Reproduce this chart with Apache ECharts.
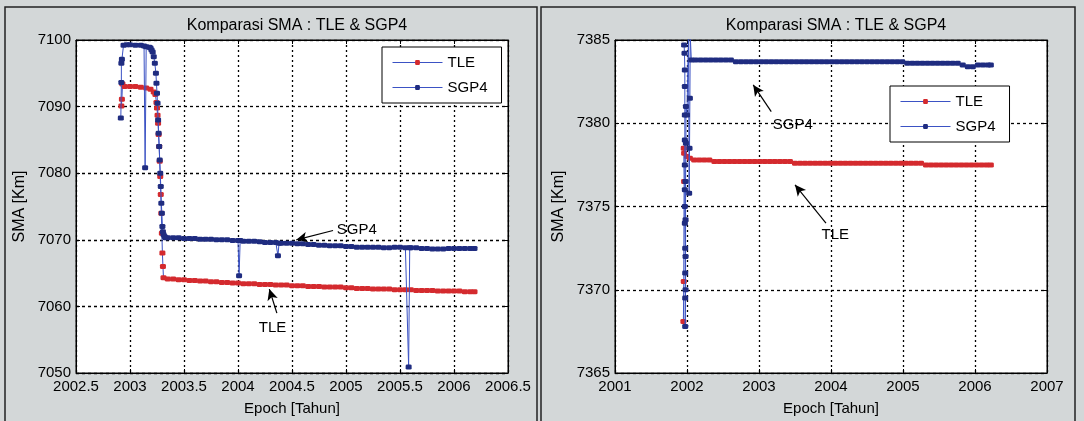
<!DOCTYPE html>
<html>
<head>
<meta charset="utf-8">
<script src="https://cdn.jsdelivr.net/npm/echarts@6/dist/echarts.min.js"></script>
<style>
html,body{margin:0;padding:0;background:#d3d7d8;}
#c{width:1084px;height:421px;}
</style>
</head>
<body>
<div id="c"></div>
<script>
// ---------- DATA ----------
// Left panel: SMA [Km] vs epoch [year]
const leftTLE = [
 [2002.92,7090.1],[2002.925,7091.1],[2002.93,7093.4],[2002.95,7093.0],[2003.00,7093.0],[2003.05,7093.0],
 [2003.10,7092.9],[2003.15,7092.8],[2003.19,7092.6],[2003.22,7092.2],[2003.235,7091.8],[2003.245,7090.6],
 [2003.25,7089.8],[2003.255,7088.7],[2003.26,7087.5],[2003.265,7085.8],[2003.27,7084.0],[2003.275,7081.8],
 [2003.28,7079.5],[2003.285,7076.8],[2003.29,7074.0],[2003.295,7071.0],[2003.30,7068.0],[2003.305,7066.0],
 [2003.31,7064.3],
 [2003.35,7064.1],[2003.40,7064.1],[2003.45,7064.0],[2003.50,7064.0],[2003.55,7063.9],[2003.60,7063.9],
 [2003.65,7063.8],[2003.70,7063.8],[2003.75,7063.7],[2003.80,7063.7],[2003.85,7063.6],[2003.90,7063.6],
 [2003.95,7063.5],[2004.00,7063.5],[2004.05,7063.4],[2004.10,7063.4],[2004.15,7063.4],[2004.20,7063.3],
 [2004.25,7063.3],[2004.30,7063.3],[2004.35,7063.2],[2004.40,7063.2],[2004.45,7063.2],[2004.50,7063.1],
 [2004.55,7063.1],[2004.60,7063.1],[2004.65,7063.0],[2004.70,7063.0],[2004.75,7063.0],[2004.80,7062.9],
 [2004.85,7062.9],[2004.90,7062.9],[2004.95,7062.9],[2005.00,7062.8],[2005.05,7062.8],[2005.10,7062.7],
 [2005.15,7062.7],[2005.20,7062.7],[2005.25,7062.6],[2005.30,7062.6],[2005.35,7062.6],[2005.40,7062.6],
 [2005.45,7062.5],[2005.50,7062.5],[2005.55,7062.5],[2005.60,7062.5],[2005.65,7062.4],[2005.70,7062.4],
 [2005.75,7062.4],[2005.80,7062.4],[2005.85,7062.3],[2005.90,7062.3],[2005.95,7062.3],[2006.00,7062.3],
 [2006.05,7062.3],[2006.10,7062.2],[2006.15,7062.2],[2006.19,7062.2]
];
const leftSGP4 = [
 [2002.915,7088.3],[2002.92,7093.6],[2002.92,7096.5],[2002.925,7097.1],[2002.94,7099.2],[2002.97,7099.3],
 [2003.00,7099.3],[2003.05,7099.2],[2003.10,7099.2],[2003.13,7099.1],[2003.14,7080.8],[2003.15,7099.0],
 [2003.18,7098.9],[2003.19,7098.8],[2003.20,7098.5],[2003.21,7098.2],[2003.22,7097.5],[2003.23,7096.5],
 [2003.24,7095.0],[2003.245,7093.5],[2003.25,7092.0],[2003.255,7090.5],[2003.26,7088.0],[2003.265,7086.0],
 [2003.27,7084.0],[2003.275,7082.0],[2003.28,7080.0],[2003.285,7078.0],[2003.29,7075.5],[2003.295,7074.0],
 [2003.30,7072.0],[2003.305,7071.2],[2003.31,7070.8],[2003.32,7070.5],[2003.33,7070.3],
 [2003.35,7070.3],[2003.40,7070.3],[2003.45,7070.3],[2003.50,7070.2],[2003.55,7070.2],[2003.60,7070.2],
 [2003.65,7070.1],[2003.70,7070.1],[2003.75,7070.1],[2003.80,7070.0],[2003.85,7070.0],[2003.90,7070.0],
 [2003.95,7069.9],[2004.00,7069.9],[2004.01,7064.6],[2004.02,7069.9],[2004.05,7069.8],[2004.10,7069.8],
 [2004.15,7069.8],[2004.20,7069.7],[2004.25,7069.6],[2004.30,7069.6],[2004.35,7069.6],[2004.37,7067.6],
 [2004.38,7069.5],[2004.40,7069.5],[2004.45,7069.5],[2004.50,7069.5],[2004.55,7069.4],[2004.60,7069.4],
 [2004.65,7069.3],[2004.70,7069.3],[2004.75,7069.2],[2004.80,7069.2],[2004.85,7069.1],[2004.90,7069.1],
 [2004.95,7069.1],[2005.00,7069.0],[2005.05,7069.0],[2005.10,7068.9],[2005.15,7068.9],[2005.20,7068.9],
 [2005.25,7068.9],[2005.30,7068.9],[2005.35,7068.8],[2005.40,7068.8],[2005.45,7068.9],[2005.50,7068.9],
 [2005.55,7068.8],[2005.58,7050.9],[2005.59,7068.8],[2005.60,7068.8],[2005.65,7068.8],[2005.70,7068.7],
 [2005.75,7068.7],[2005.80,7068.6],[2005.85,7068.6],[2005.90,7068.6],[2005.95,7068.7],[2006.00,7068.7],
 [2006.05,7068.7],[2006.10,7068.7],[2006.15,7068.7],[2006.19,7068.7]
];
// Right panel
const rightTLE = [
 [2001.95,7368.1],[2001.955,7370.5],[2001.96,7376.5],[2001.955,7378.5],[2001.96,7378.2],[2002.00,7378.0],
 [2002.04,7377.9],[2002.10,7377.8],[2002.17,7377.8],[2002.24,7377.8],[2002.31,7377.8],[2002.38,7377.7],
 [2002.45,7377.7],[2002.52,7377.7],[2002.59,7377.7],[2002.66,7377.7],[2002.73,7377.7],[2002.80,7377.7],
 [2002.87,7377.7],[2002.94,7377.7],[2003.01,7377.7],[2003.08,7377.7],[2003.15,7377.7],[2003.22,7377.7],
 [2003.29,7377.7],[2003.36,7377.7],[2003.43,7377.7],[2003.50,7377.6],[2003.57,7377.6],[2003.64,7377.6],
 [2003.71,7377.6],[2003.78,7377.6],[2003.85,7377.6],[2003.92,7377.6],[2003.99,7377.6],[2004.06,7377.6],
 [2004.13,7377.6],[2004.20,7377.6],[2004.27,7377.6],[2004.34,7377.6],[2004.41,7377.6],[2004.48,7377.6],
 [2004.55,7377.6],[2004.62,7377.6],[2004.69,7377.6],[2004.76,7377.6],[2004.83,7377.6],[2004.90,7377.6],
 [2004.97,7377.6],[2005.04,7377.6],[2005.11,7377.6],[2005.18,7377.6],[2005.25,7377.6],[2005.32,7377.5],
 [2005.39,7377.5],[2005.46,7377.5],[2005.53,7377.5],[2005.60,7377.5],[2005.67,7377.5],[2005.74,7377.5],
 [2005.81,7377.5],[2005.88,7377.5],[2005.95,7377.5],[2006.02,7377.5],[2006.09,7377.5],[2006.16,7377.5],
 [2006.22,7377.5]
];
const rightSGP4 = [
 [2001.96,7384.7],[2001.965,7384.2],[2001.97,7383.2],[2001.97,7382.2],[2001.97,7380.5],[2001.97,7379.0],
 [2001.97,7377.5],[2001.97,7376.0],[2001.97,7375.0],[2001.97,7374.0],[2001.975,7372.5],[2001.975,7371.0],
 [2001.975,7369.5],[2001.975,7367.8],[2001.98,7370.0],[2001.98,7372.0],[2001.98,7374.2],[2001.98,7376.5],
 [2001.985,7378.8],[2001.985,7381.0],[2002.00,7380.5],[2002.02,7385.5],[2002.03,7375.8],[2002.035,7378.5],
 [2002.04,7381.5],[2002.045,7385.3],[2002.06,7383.8],
 [2002.12,7383.8],[2002.19,7383.8],[2002.26,7383.8],[2002.33,7383.8],[2002.40,7383.8],[2002.47,7383.8],
 [2002.54,7383.8],[2002.61,7383.8],[2002.68,7383.7],[2002.75,7383.7],[2002.82,7383.7],[2002.89,7383.7],
 [2002.96,7383.7],[2003.03,7383.7],[2003.10,7383.7],[2003.17,7383.7],[2003.24,7383.7],[2003.31,7383.7],
 [2003.38,7383.7],[2003.45,7383.7],[2003.52,7383.7],[2003.59,7383.7],[2003.66,7383.7],[2003.73,7383.7],
 [2003.80,7383.7],[2003.87,7383.7],[2003.94,7383.7],[2004.01,7383.7],[2004.08,7383.7],[2004.15,7383.7],
 [2004.22,7383.7],[2004.29,7383.7],[2004.36,7383.7],[2004.43,7383.7],[2004.50,7383.7],[2004.57,7383.7],
 [2004.64,7383.7],[2004.71,7383.7],[2004.78,7383.7],[2004.85,7383.7],[2004.92,7383.7],[2004.99,7383.7],
 [2005.06,7383.6],[2005.13,7383.6],[2005.20,7383.6],[2005.27,7383.6],[2005.34,7383.6],[2005.41,7383.6],
 [2005.48,7383.6],[2005.55,7383.6],[2005.62,7383.6],[2005.69,7383.6],[2005.76,7383.6],[2005.83,7383.5],
 [2005.90,7383.4],[2005.97,7383.4],[2006.04,7383.5],[2006.11,7383.5],[2006.18,7383.5],[2006.22,7383.5]
];
// Axis ranges / ticks
const leftX = {min:2002.5, max:2006.5, step:0.5};
const leftY = {min:7050, max:7100, step:10};
const rightX = {min:2001, max:2007, step:1};
const rightY = {min:7365, max:7385, step:5};
// Texts
const titleText = 'Komparasi SMA : TLE & SGP4';
const xName = 'Epoch [Tahun]';
const yName = 'SMA [Km]';
const seriesNames = ['TLE','SGP4'];
// Annotations (data coords): [label, textPos, arrowTail, arrowHead]
const leftNotes = [
 ['SGP4',[2005.10,7071.5],[2004.88,7071.4],[2004.54,7070.0]],
 ['TLE',[2004.32,7056.8],[2004.36,7059.0],[2004.29,7062.6]]
];
const rightNotes = [
 ['SGP4',[2003.47,7379.9],[2003.17,7380.7],[2002.92,7382.3]],
 ['TLE',[2004.06,7373.3],[2003.93,7374.0],[2003.50,7376.3]]
];

// ---------- STYLE ----------
const FONT = "'Liberation Sans',Arial,sans-serif";
const LINE_BLUE = '#3b52c4';
const RED = '#d42a2e';
const NAVY = '#1f2c80';
const INK = '#000';

const chart = echarts.init(document.getElementById('c'), null, {renderer:'canvas'});

const grids = [
 {left:76, top:40, width:432, height:333},
 {left:615, top:40, width:432, height:333}
];

function fmt(v){ return String(Math.round(v*10)/10); }

function xAxes(g, r){
 return [
  {type:'value', gridIndex:g, min:r.min, max:r.max, interval:r.step, position:'bottom',
   name:xName, nameLocation:'middle', nameGap:28,
   nameTextStyle:{fontFamily:FONT, fontSize:15, color:INK},
   axisLine:{show:true, onZero:false, lineStyle:{color:INK, width:1}},
   axisTick:{show:true, inside:true, length:4, lineStyle:{color:INK}},
   axisLabel:{show:true, margin:6, fontFamily:FONT, fontSize:15, color:INK, formatter:fmt},
   splitLine:{show:true, lineStyle:{color:INK, width:1.3, type:[2,3]}}},
  {type:'value', gridIndex:g, min:r.min, max:r.max, interval:r.step, position:'top',
   axisLine:{show:true, onZero:false, lineStyle:{color:INK, width:1}},
   axisTick:{show:true, inside:true, length:4, lineStyle:{color:INK}},
   axisLabel:{show:false}, splitLine:{show:false}}
 ];
}
function yAxes(g, r){
 return [
  {type:'value', gridIndex:g, min:r.min, max:r.max, interval:r.step, position:'left',
   name:yName, nameLocation:'middle', nameGap:48,
   nameTextStyle:{fontFamily:FONT, fontSize:16, color:INK},
   axisLine:{show:true, onZero:false, lineStyle:{color:INK, width:1}},
   axisTick:{show:true, inside:true, length:4, lineStyle:{color:INK}},
   axisLabel:{show:true, margin:5, fontFamily:FONT, fontSize:15, color:INK, formatter:fmt},
   splitLine:{show:true, lineStyle:{color:INK, width:1.3, type:[3,3]}}},
  {type:'value', gridIndex:g, min:r.min, max:r.max, interval:r.step, position:'right',
   axisLine:{show:true, onZero:false, lineStyle:{color:INK, width:1}},
   axisTick:{show:true, inside:true, length:4, lineStyle:{color:INK}},
   axisLabel:{show:false}, splitLine:{show:false}}
 ];
}

function notes(list){
 return {
  markLine:{silent:true, animation:false, symbol:['none','arrow'], symbolSize:[8,11],
   lineStyle:{color:INK, width:1.2, type:'solid'}, label:{show:false},
   data:list.map(n=>[{coord:n[2]},{coord:n[3]}])},
  markPoint:{silent:true, animation:false, symbol:'circle', symbolSize:0,
   label:{show:true, position:'inside', fontFamily:FONT, fontSize:15, color:INK,
          formatter:p=>p.name},
   data:list.map(n=>({name:n[0], coord:n[1]}))}
 };
}

function mkSeries(name, data, xi, yi, markerColor, z, extra){
 return Object.assign({
  type:'line', name:name, data:data, xAxisIndex:xi, yAxisIndex:yi,
  symbol:'roundRect', symbolSize:[6,5], showAllSymbol:true, z:z,
  lineStyle:{color:LINE_BLUE, width:1},
  itemStyle:{color:markerColor, borderWidth:0},
  emphasis:{disabled:true}, animation:false
 }, extra||{});
}

const legendBase = {
 orient:'vertical', backgroundColor:'#fff', borderColor:INK, borderWidth:1,
 padding:[8,14,8,10], itemGap:10, itemWidth:50, itemHeight:6,
 textStyle:{fontFamily:FONT, fontSize:15, color:INK},
 lineStyle:{color:LINE_BLUE, width:1},
 itemStyle:{borderWidth:0},
 data:seriesNames, selectedMode:false
};

const option = {
 backgroundColor:'#d3d7d8',
 animation:false,
 title:[
  {text:titleText, left:292, top:13, textAlign:'center',
   textStyle:{fontFamily:FONT, fontSize:16, fontWeight:'normal', color:INK}},
  {text:titleText, left:831, top:13, textAlign:'center',
   textStyle:{fontFamily:FONT, fontSize:16, fontWeight:'normal', color:INK}}
 ],
 graphic:[
  {type:'rect', shape:{x:5,y:7,width:532,height:420}, style:{fill:'none', stroke:'#222', lineWidth:1.5}, z:-1},
  {type:'rect', shape:{x:541,y:7,width:534,height:420}, style:{fill:'none', stroke:'#222', lineWidth:1.5}, z:-1}
 ],
 legend:[
  Object.assign({}, legendBase, {left:382, top:47}),
  Object.assign({}, legendBase, {left:890, top:86})
 ],
 grid:grids.map(g=>Object.assign({show:true, backgroundColor:'#fff', borderColor:INK, borderWidth:1}, g)),
 xAxis:[].concat(xAxes(0,leftX), xAxes(1,rightX)),
 yAxis:[].concat(yAxes(0,leftY), yAxes(1,rightY)),
 series:[
  mkSeries('TLE', leftTLE, 0, 0, RED, 3),
  mkSeries('SGP4', leftSGP4, 0, 0, NAVY, 4, notes(leftNotes)),
  mkSeries('TLE', rightTLE, 2, 2, RED, 3),
  mkSeries('SGP4', rightSGP4, 2, 2, NAVY, 4, notes(rightNotes))
 ]
};
chart.setOption(option);
</script>
</body>
</html>
